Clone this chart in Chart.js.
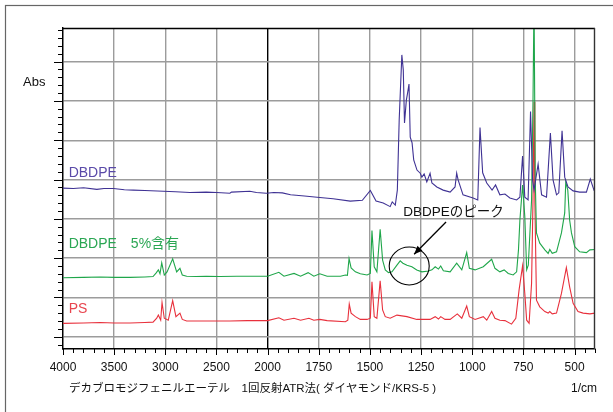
<!DOCTYPE html>
<html><head><meta charset="utf-8">
<script src="https://cdn.jsdelivr.net/npm/chart.js@4/dist/chart.umd.min.js"></script>
<style>html,body{margin:0;padding:0;background:#fff;}#wrap{width:613px;height:412px;}</style>
</head><body><div id="wrap"><canvas id="c" width="613" height="412"></canvas></div>
<script>
// ---- data ----
const wavenumberTicks = [4000,3500,3000,2500,2000,1750,1500,1250,1000,750,500];
const absTicks = [1,2,3,4,5,6,7,8];
const seriesNames = ['DBDPE','DBDPE\u30005%含有','PS'];
const axisTitle = 'デカブロモジフェニルエーテル\u30001回反射ATR法( ダイヤモンド/KRS-5 )';
const unitLabel = '1/cm';
const yLabel = 'Abs';
const annotationText = 'DBDPEのピーク';

const dbdpeWn = [4000,3900,3799,3669,3600,3507,3400,3312,3200,3019,
  2900,2759,2600,2499,2369,2353,2174,2109,2012,1970,
  1928,1888,1820,1758,1680,1596,1537,1498,1470,1435,
  1401,1391,1376,1366,1357,1344,1337,1331,1322,1316,
  1309,1303,1294,1286,1270,1254,1246,1235,1222,1206,
  1197,1173,1142,1108,1084,1076,1069,1045,996,973,
  962,949,929,903,886,865,840,816,783,767,
  754,743,727,715,705,698,678,661,637,618,
  605,588,577,561,548,532,507,475,442,423,
  405,400];
const dbdpeAbs = [4.78,4.77,4.79,4.75,4.77,4.77,4.74,4.73,4.72,4.70,
  4.69,4.67,4.68,4.67,4.65,4.68,4.70,4.67,4.65,4.67,
  4.66,4.61,4.58,4.55,4.51,4.45,4.47,4.72,4.45,4.40,
  4.31,4.43,4.35,4.73,6.51,8.17,7.79,6.44,7.02,7.20,
  7.43,6.08,5.93,5.50,5.24,5.16,5.06,5.14,4.94,5.16,
  4.91,4.81,4.73,4.68,4.81,5.16,4.99,4.61,4.53,4.48,
  6.32,5.17,4.91,4.73,4.86,4.61,4.63,4.53,4.48,4.55,
  5.60,4.55,4.48,6.73,4.99,4.73,5.39,4.61,4.55,6.18,
  4.99,4.61,4.66,6.24,5.06,4.81,4.71,4.68,4.68,5.01,
  4.73,4.75];

const mixWn = [4000,3800,3636,3500,3344,3200,3120,3091,3068,3052,
  3035,3010,2983,2928,2889,2857,2834,2791,2700,2600,
  2467,2300,2174,2000,1945,1920,1871,1839,1802,1774,
  1745,1709,1644,1620,1610,1602,1592,1571,1547,1514,
  1498,1490,1479,1466,1450,1438,1425,1409,1392,1368,
  1352,1339,1319,1295,1271,1246,1214,1197,1181,1165,
  1154,1141,1108,1076,1051,1027,1014,986,946,905,
  889,865,844,824,800,783,774,767,754,743,
  734,726,710,703,698,692,686,670,645,629,
  621,609,588,564,548,543,533,524,515,499,
  475,442,425,400];
const mixAbs = [2.50,2.51,2.52,2.51,2.51,2.52,2.53,2.62,2.70,2.60,
  2.88,2.57,2.65,2.98,2.65,2.74,2.57,2.54,2.53,2.54,
  2.53,2.54,2.54,2.54,2.64,2.54,2.61,2.54,2.63,2.54,
  2.60,2.54,2.54,2.57,2.56,2.99,2.75,2.65,2.60,2.57,
  2.61,3.70,2.78,2.65,3.73,2.95,2.70,2.63,2.65,2.82,
  2.93,2.87,2.82,2.78,2.70,2.65,2.67,2.70,2.78,2.72,
  2.80,2.68,2.65,2.87,2.70,3.14,2.74,2.70,2.78,2.97,
  2.74,2.65,2.70,2.61,2.57,2.65,3.21,3.97,4.86,4.05,
  2.70,2.82,4.48,7.00,9.60,5.00,3.64,3.38,3.21,3.12,
  3.22,3.12,3.16,3.64,4.15,4.94,4.73,3.97,3.64,3.29,
  3.16,3.14,3.21,3.22];

const psWn = [4000,3800,3636,3500,3344,3200,3120,3084,3068,3045,
  3032,3010,2971,2928,2896,2857,2834,2791,2600,2369,
  2200,2000,1945,1920,1871,1839,1798,1774,1745,1709,
  1620,1608,1601,1592,1571,1547,1514,1498,1490,1479,
  1466,1450,1438,1425,1401,1368,1319,1271,1206,1181,
  1165,1154,1133,1108,1073,1051,1027,1014,986,946,
  929,905,889,865,840,808,787,771,754,743,
  734,722,710,703,698,694,686,670,645,629,
  621,609,588,564,540,524,507,483,458,425,
  400];
const psAbs = [1.34,1.35,1.36,1.35,1.35,1.36,1.37,1.47,1.55,1.42,
  1.87,1.47,1.42,1.92,1.51,1.60,1.44,1.40,1.40,1.40,
  1.41,1.41,1.48,1.42,1.47,1.42,1.47,1.42,1.44,1.41,
  1.38,1.42,1.83,1.60,1.51,1.44,1.44,1.47,2.40,1.51,
  1.47,2.42,1.68,1.51,1.47,1.55,1.51,1.44,1.44,1.51,
  1.45,1.51,1.44,1.44,1.58,1.47,1.78,1.51,1.44,1.51,
  1.42,1.64,1.47,1.42,1.41,1.32,1.47,2.19,2.80,2.10,
  1.42,1.34,2.36,4.48,6.98,4.48,1.93,1.76,1.64,1.60,
  1.64,1.58,1.60,2.10,2.76,2.27,1.85,1.64,1.60,1.58,
  1.60];

// ---- broken wavenumber axis (4000-2000 compressed by 2) ----
class BrokenWnScale extends Chart.LinearScale {
  _u(v){ return v >= 2000 ? (4000 - v) / 2 : 1000 + (2000 - v); }
  _inv(u){ return u <= 1000 ? 4000 - 2 * u : 2000 - (u - 1000); }
  getPixelForValue(value){
    const u0 = this._u(this.max), u1 = this._u(this.min);
    return this.left + (this._u(value) - u0) / (u1 - u0) * this.width;
  }
  getValueForPixel(pixel){
    const u0 = this._u(this.max), u1 = this._u(this.min);
    return this._inv(u0 + (pixel - this.left) / this.width * (u1 - u0));
  }
}
BrokenWnScale.id = 'brokenWn';
BrokenWnScale.defaults = Chart.LinearScale.defaults;
Chart.register(BrokenWnScale);

function pts(wn, ab){ return wn.map((w,i)=>({x:w, y:ab[i]})); }

const colors = ['#3f3294','#1fa64a','#e8303c'];
const labelColors = ['#5a4aa8','#2aa653','#e8454f'];
const FONT = "'Liberation Sans', Arial, 'Noto Sans CJK JP', sans-serif";

const decor = {
  id:'decor',
  beforeDraw(chart){
    const c = chart.ctx;
    c.save();
    c.strokeStyle = '#666'; c.lineWidth = 1.2;
    c.strokeRect(5.5, 5.5, 640, 440);
    c.restore();
  },
  afterDraw(chart){
    const c = chart.ctx, xs = chart.scales.x, ys = chart.scales.y, a = chart.chartArea;
    c.save();
    // top / right borders
    c.strokeStyle = '#000'; c.lineWidth = 1.4;
    c.beginPath(); c.moveTo(a.left, a.top + 0.5); c.lineTo(a.right, a.top + 0.5); c.stroke();
    c.strokeStyle = '#333';
    c.beginPath(); c.moveTo(a.right - 0.5, a.top); c.lineTo(a.right - 0.5, a.bottom); c.stroke();
    // x ticks (major + minor)
    c.strokeStyle = '#000'; c.lineWidth = 1;
    const xt = [];
    for (let w = 4000; w >= 2000; w -= 100) xt.push(w);
    for (let w = 1950; w >= 400; w -= 50) xt.push(w);
    xt.forEach(w => {
      const px = Math.round(xs.getPixelForValue(w)) + 0.5;
      const len = wavenumberTicks.includes(w) ? 6 : 4;
      c.beginPath(); c.moveTo(px, a.bottom); c.lineTo(px, a.bottom + len); c.stroke();
    });
    // y ticks
    for (let k = 0; ; k++) {
      const v = Math.round((0.8 + k * 0.2) * 10) / 10;
      if (v > ys.max) break;
      const py = Math.round(ys.getPixelForValue(v)) + 0.5;
      const len = Math.abs(v - Math.round(v)) < 1e-6 ? 9 : 5;
      c.beginPath(); c.moveTo(a.left - len, py); c.lineTo(a.left, py); c.stroke();
    }
    // texts
    c.textBaseline = 'middle';
    c.fillStyle = '#111';
    c.font = '13px ' + FONT; c.textAlign = 'left';
    c.fillText(yLabel, 23, 82);
    c.font = '11.5px ' + FONT;
    c.fillText(axisTitle, 69, 389);
    c.font = '12px ' + FONT;
    c.textAlign = 'right';
    c.fillText(unitLabel, 597, 389);
    c.textAlign = 'left';
    c.font = '14px ' + FONT;
    const lx = xs.getPixelForValue(3945);
    [5.17, 3.36, 1.70].forEach((v,i) => {
      c.fillStyle = labelColors[i];
      c.fillText(seriesNames[i], lx, ys.getPixelForValue(v));
    });
    // annotation
    c.fillStyle = '#111'; c.font = '13.5px ' + FONT;
    c.fillText(annotationText, xs.getPixelForValue(1337), ys.getPixelForValue(4.17));
    const cx = xs.getPixelForValue(1308), cy = ys.getPixelForValue(2.80);
    c.strokeStyle = '#000'; c.lineWidth = 1.1;
    c.beginPath(); c.ellipse(cx, cy, 20, 19, 0, 0, Math.PI * 2); c.stroke();
    const x1 = xs.getPixelForValue(1128), y1 = ys.getPixelForValue(3.92);
    const x2 = xs.getPixelForValue(1284), y2 = ys.getPixelForValue(3.10);
    c.lineWidth = 1.3;
    c.beginPath(); c.moveTo(x1, y1); c.lineTo(x2, y2); c.stroke();
    const ang = Math.atan2(y2 - y1, x2 - x1), hl = 9, hw = 0.4;
    c.fillStyle = '#000';
    c.beginPath(); c.moveTo(x2, y2);
    c.lineTo(x2 - hl * Math.cos(ang - hw), y2 - hl * Math.sin(ang - hw));
    c.lineTo(x2 - hl * Math.cos(ang + hw), y2 - hl * Math.sin(ang + hw));
    c.closePath(); c.fill();
    c.restore();
  }
};

new Chart(document.getElementById('c'), {
  type: 'line',
  data: {
    datasets: [
      {label: seriesNames[0], data: pts(dbdpeWn, dbdpeAbs), borderColor: colors[0]},
      {label: seriesNames[1], data: pts(mixWn, mixAbs), borderColor: colors[1]},
      {label: seriesNames[2], data: pts(psWn, psAbs), borderColor: colors[2]}
    ]
  },
  options: {
    responsive: false, animation: false, devicePixelRatio: 1,
    parsing: true,
    elements: { line: { borderWidth: 1.1, tension: 0 }, point: { radius: 0 } },
    layout: { padding: { top: 28, right: 18, left: 0, bottom: 0 } },
    plugins: { legend: { display: false }, tooltip: { enabled: false } },
    scales: {
      x: {
        type: 'brokenWn', min: 400, max: 4000,
        afterBuildTicks: s => { s.ticks = wavenumberTicks.map(v => ({value: v})); },
        afterFit: s => { s.height = 63; },
        ticks: { autoSkip: false, maxRotation: 0, padding: 11, color: '#111',
                 font: { size: 12, family: FONT }, callback: v => String(v) },
        grid: { drawTicks: false, lineWidth: 1.4,
                color: ctx => (ctx.tick && ctx.tick.value === 2000) ? '#000' : '#9c9c9c' },
        border: { color: '#000', width: 1.4 }
      },
      y: {
        type: 'linear', min: 0.687, max: 8.855,
        afterBuildTicks: s => { s.ticks = absTicks.map(v => ({value: v})); },
        afterFit: s => { s.width = 63; },
        ticks: { display: false },
        grid: { drawTicks: false, lineWidth: 1.4, color: '#9c9c9c' },
        border: { color: '#000', width: 1.4 }
      }
    }
  },
  plugins: [decor]
});
</script>
</body></html>
